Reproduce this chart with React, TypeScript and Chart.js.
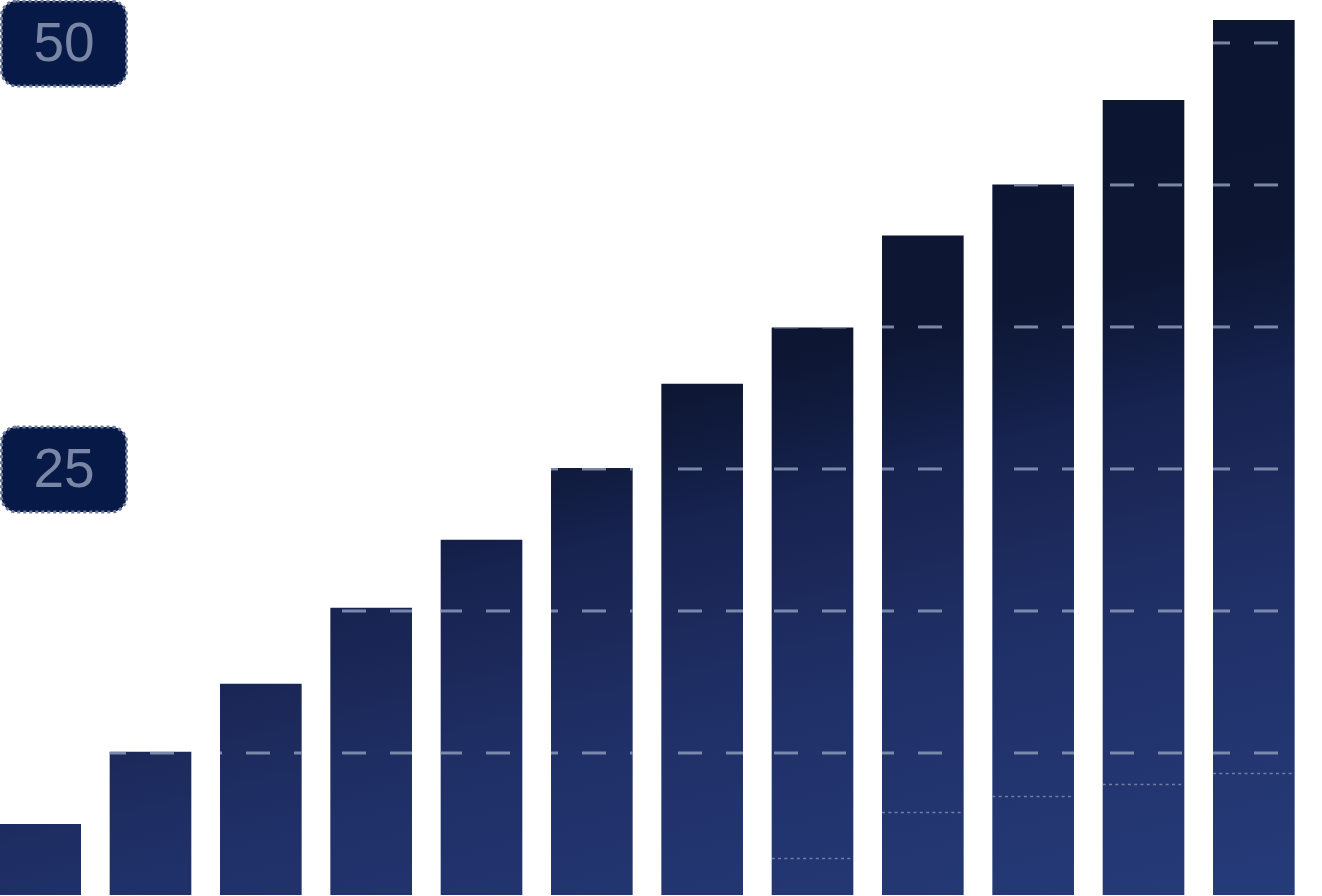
import React, { useEffect, useRef } from "react";
import { Chart, registerables } from "chart.js";

Chart.register(...registerables);

const categories = ["1", "2", "3", "4", "5", "6", "7", "8", "9", "10", "11", "12"];
const barValues = [4.17, 8.4, 12.4, 16.85, 20.85, 25.05, 30.0, 33.3, 38.7, 41.7, 46.65, 51.35];
const markerValues: (number | null)[] = [null, null, null, null, null, null, null, 2.17, 4.87, 5.81, 6.5, 7.16];
const gridValues = [25 / 3, 50 / 3, 25, 100 / 3, 125 / 3, 50];
const tickLabels = [
  { value: 25, text: "25" },
  { value: 50, text: "50" },
];

const OFFSET_X = 15;

const barGridPlugin = {
  id: "barGrid",
  afterDatasetsDraw(chart: any) {
    const ctx = chart.ctx as CanvasRenderingContext2D;
    const yScale = chart.scales.y;
    const meta = chart.getDatasetMeta(0);
    meta.data.forEach((bar: any, i: number) => {
      const p = bar.getProps(["x", "y", "base", "width"], true);
      const left = p.x - p.width / 2;
      const top = Math.min(p.y, p.base);
      const h = Math.abs(p.base - p.y);
      ctx.save();
      ctx.beginPath();
      ctx.rect(left, top, p.width, h);
      ctx.clip();
      ctx.strokeStyle = "rgba(132,147,180,0.9)";
      ctx.lineWidth = 3;
      ctx.setLineDash([24, 24]);
      gridValues.forEach((v) => {
        const py = yScale.getPixelForValue(v);
        ctx.beginPath();
        ctx.moveTo(OFFSET_X + 6 - 48, py);
        ctx.lineTo(chart.width + 48, py);
        ctx.stroke();
      });
      const mv = markerValues[i];
      if (mv != null) {
        const py = Math.round(yScale.getPixelForValue(mv)) + 0.5;
        ctx.strokeStyle = "rgba(140,150,178,0.75)";
        ctx.lineWidth = 1.5;
        ctx.setLineDash([3, 3.3]);
        ctx.beginPath();
        ctx.moveTo(left, py);
        ctx.lineTo(left + p.width, py);
        ctx.stroke();
      }
      ctx.restore();
    });
  },
  afterDraw(chart: any) {
    const ctx = chart.ctx as CanvasRenderingContext2D;
    const yScale = chart.scales.y;
    tickLabels.forEach((t) => {
      const py = yScale.getPixelForValue(t.value);
      const x0 = OFFSET_X + 1.5;
      const w = 125;
      const y0 = py - 42;
      const h = 85;
      ctx.save();
      ctx.beginPath();
      (ctx as any).roundRect(x0, y0, w, h, 15);
      ctx.fillStyle = "#071a47";
      ctx.fill();
      ctx.setLineDash([3, 3]);
      ctx.lineWidth = 3;
      ctx.strokeStyle = "#6e7b9c";
      ctx.stroke();
      ctx.setLineDash([]);
      ctx.fillStyle = "#7a86a6";
      ctx.font = '55px "Liberation Sans", Arial, Helvetica, sans-serif';
      ctx.textAlign = "center";
      ctx.textBaseline = "alphabetic";
      ctx.fillText(t.text, OFFSET_X + 64, py + 18);
      ctx.restore();
    });
  },
};

export default function App() {
  const ref = useRef<HTMLCanvasElement | null>(null);

  useEffect(() => {
    const canvas = ref.current;
    if (!canvas) return;
    const ctx = canvas.getContext("2d")!;
    const grad = ctx.createLinearGradient(OFFSET_X, 0, OFFSET_X + 288, 1154);
    grad.addColorStop(0, "#0c1530");
    grad.addColorStop(0.45, "#0d1632");
    grad.addColorStop(0.512, "#111c40");
    grad.addColorStop(0.564, "#172350");
    grad.addColorStop(0.63, "#1b2858");
    grad.addColorStop(0.718, "#1f2f66");
    grad.addColorStop(0.826, "#22346e");
    grad.addColorStop(0.973, "#253a78");
    grad.addColorStop(1, "#263b7a");

    const chart = new Chart(canvas, {
      type: "bar",
      data: {
        labels: categories,
        datasets: [
          {
            data: barValues,
            backgroundColor: grad,
            borderWidth: 0,
            categoryPercentage: 1,
            barPercentage: 0.74,
          },
        ],
      },
      options: {
        animation: false,
        responsive: false,
        devicePixelRatio: 1,
        layout: { padding: { left: 0, right: 13, top: 0, bottom: 1 } },
        plugins: { legend: { display: false }, tooltip: { enabled: false } },
        scales: {
          x: { display: false },
          y: { display: false, min: 0, max: 52.52 },
        },
      },
      plugins: [barGridPlugin],
    });
    return () => chart.destroy();
  }, []);

  return (
    <div
      style={{
        position: "fixed",
        left: 0,
        top: 0,
        width: 1322,
        height: 896,
        overflow: "hidden",
        background: "#ffffff",
      }}
    >
      <canvas
        ref={ref}
        width={1337}
        height={896}
        style={{ position: "absolute", left: -OFFSET_X, top: 0, width: 1337, height: 896 }}
      />
    </div>
  );
}
